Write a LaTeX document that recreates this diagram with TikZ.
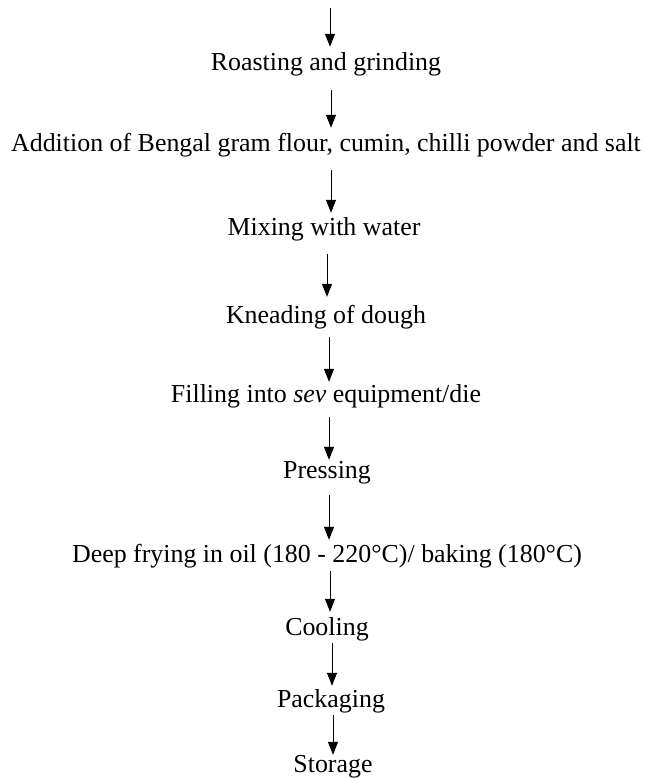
\documentclass[tikz,border=0pt]{standalone}
\usepackage{fontspec}
\setmainfont{Liberation Serif}
\usetikzlibrary{arrows.meta}
\begin{document}
\begin{tikzpicture}[x=1pt,y=-1pt,
  stage/.style={anchor=base,inner sep=0pt,text height=18pt,text depth=6pt,font=\fontsize{25.9}{31}\selectfont},
  arr/.style={line width=1pt,-{Triangle[width=10pt,length=13pt]}}]
\useasboundingbox (0,0) rectangle (646,778);
\coordinate (top) at (330,8);
\node[stage] (roast) at (326,71) {Roasting and grinding};
\node[stage] (add) at (326,152) {Addition of Bengal gram flour, cumin, chilli powder and salt};
\node[stage] (mix) at (324,235) {Mixing with water};
\node[stage] (knead) at (326,323) {Kneading of dough};
\node[stage] (fill) at (326,402) {Filling into \textit{sev} equipment/die};
\node[stage] (press) at (327,478) {Pressing};
\node[stage] (fry) at (327,562) {Deep frying in oil (180 - 220°C)/ baking (180°C)};
\node[stage] (cool) at (327,635) {Cooling};
\node[stage] (pack) at (331,707) {Packaging};
\node[stage] (store) at (333,772) {Storage};
\draw[arr,shorten >=6pt] (top) -- ([xshift=4pt]roast.north);
\draw[arr,shorten <=13pt,shorten >=6pt] ([xshift=5pt]roast.south) -- ([xshift=5pt]add.north);
\draw[arr,shorten <=12pt,shorten >=4pt] ([xshift=5pt]add.south) -- ([xshift=7pt]mix.north);
\draw[arr,shorten <=13pt,shorten >=8pt] ([xshift=3pt]mix.south) -- ([xshift=1pt]knead.north);
\draw[arr,shorten <=8pt,shorten >=2pt] ([xshift=3pt]knead.south) -- ([xshift=3pt]fill.north);
\draw[arr,shorten <=9pt,shorten >=0pt] ([xshift=3pt]fill.south) -- ([xshift=2pt]press.north);
\draw[arr,shorten <=11pt,shorten >=4pt] ([xshift=2pt]press.south) -- ([xshift=2pt]fry.north);
\draw[arr,shorten <=3pt,shorten >=5pt] ([xshift=3pt]fry.south) -- ([xshift=3pt]cool.north);
\draw[arr,shorten <=2pt,shorten >=3pt] ([xshift=5pt]cool.south) -- ([xshift=1pt]pack.north);
\draw[arr,shorten <=2pt,shorten >=-1pt] ([xshift=2pt]pack.south) -- (store.north);
\end{tikzpicture}
\end{document}
